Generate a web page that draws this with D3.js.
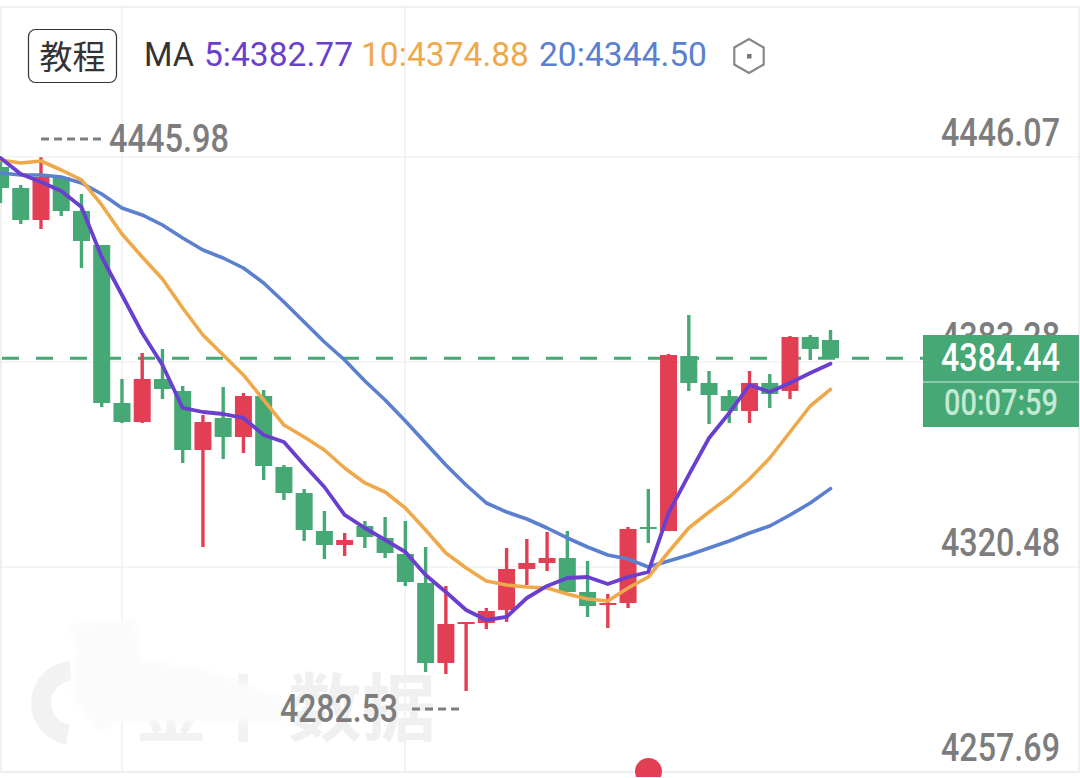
<!DOCTYPE html>
<html>
<head>
<meta charset="utf-8">
<script src="https://cdn.jsdelivr.net/npm/d3@7/dist/d3.min.js"></script>
<style>
html,body{margin:0;padding:0;background:#fff;overflow:hidden}
svg{display:block}
</style>
</head>
<body>
<svg id="c" width="1080" height="778"></svg>
<script>
const opens  = [4443.01,4436.58,4426.77,4439.94,4429.53,4419.12,4370.72,4364.90,4378.07,4374.40,4356.32,4366.13,4360.31,4372.87,4351.12,4343.15,4331.51,4327.23,4333.05,4329.37,4324.47,4315.59,4291.08,4303.03,4303.34,4307.32,4319.88,4321.71,4323.24,4312.83,4308.85,4309.46,4332.74,4331.51,4385.12,4376.85,4372.87,4368.27,4376.85,4374.40,4390.94,4390.02];
const highs  = [4445.76,4437.49,4445.98,4440.25,4434.74,4419.12,4378.07,4386.04,4387.26,4375.93,4367.05,4375.62,4373.78,4374.70,4351.73,4344.38,4337.64,4330.90,4334.58,4335.80,4334.58,4326.61,4314.67,4303.64,4307.93,4326.31,4329.06,4331.21,4331.51,4322.33,4312.22,4332.74,4344.38,4385.73,4397.68,4380.52,4374.70,4380.52,4379.60,4391.24,4391.55,4393.08];
const lows   = [4431.98,4425.55,4424.02,4428.00,4412.07,4369.50,4364.60,4364.60,4371.95,4352.34,4326.61,4353.57,4355.41,4347.14,4341.01,4328.45,4322.94,4323.86,4326.31,4323.24,4314.67,4288.33,4287.71,4282.53,4301.50,4303.64,4314.97,4319.26,4312.83,4305.17,4301.80,4307.93,4327.84,4331.51,4374.40,4364.29,4364.60,4364.60,4369.19,4371.95,4383.89,4384.44];
const closes = [4436.58,4426.77,4439.94,4429.53,4420.34,4370.72,4364.90,4378.07,4375.01,4356.32,4364.90,4360.31,4372.87,4351.42,4343.15,4331.82,4327.23,4328.76,4329.68,4324.78,4315.89,4291.08,4303.03,4303.64,4307.01,4319.88,4321.71,4323.24,4312.83,4308.54,4309.46,4332.13,4332.13,4385.42,4376.85,4373.17,4368.27,4376.85,4373.48,4390.94,4387.26,4384.44];
const ma5  = [4445.76,4440.86,4438.41,4435.66,4430.76,4415.44,4403.80,4392.16,4382.36,4369.19,4367.96,4367.35,4366.13,4360.92,4358.78,4351.73,4344.99,4336.42,4332.43,4328.76,4325.08,4318.04,4312.83,4307.32,4304.25,4305.17,4310.99,4314.67,4317.12,4317.42,4315.28,4317.42,4318.96,4337.03,4348.67,4360.00,4367.66,4376.23,4374.09,4376.85,4379.91,4382.77];
const ma10 = [4445.15,4444.23,4444.85,4442.09,4439.03,4431.37,4422.49,4415.44,4408.70,4399.82,4391.55,4385.42,4379.30,4371.64,4363.98,4360.31,4356.32,4350.81,4346.22,4343.46,4338.56,4331.82,4324.78,4320.18,4316.20,4314.97,4314.36,4314.06,4312.22,4310.69,4310.07,4314.06,4317.42,4325.08,4332.43,4337.33,4341.93,4347.44,4353.87,4361.84,4369.80,4374.88];
const ma20 = [4441.17,4440.56,4440.56,4439.94,4438.11,4434.74,4430.45,4428.31,4425.24,4421.26,4417.58,4415.13,4412.07,4407.48,4401.66,4395.53,4389.41,4383.89,4377.46,4371.64,4365.21,4358.47,4351.73,4345.60,4340.09,4337.33,4335.19,4332.43,4329.37,4326.61,4324.16,4322.94,4320.49,4322.33,4324.16,4326.31,4328.45,4330.90,4333.05,4336.42,4340.09,4344.50];
const axisTicks = [4446.07,4383.28,4320.48,4257.69];
const lastPrice = 4384.44;
const countdown = "00:07:59";
const highMark = 4445.98;
const lowMark = 4282.53;
const legendLabels = ["5:4382.77","10:4374.88","20:4344.50"];

const GREEN="#46a874",RED="#e33f54",PURPLE="#6a3fd0",ORANGE="#f0a94a",BLUE="#5b80cf",GREY="#7d7d7d",GRID="#ebebeb";
const NUM='Roboto,"Noto Sans",sans-serif';

const svg=d3.select("#c");
const x=d3.scaleLinear().domain([0,41]).range([0.5,830.5]);
const y=d3.scaleLinear().domain([4257.69,4446.07]).range([772,157]);

// frame + grid
svg.append("rect").attr("x",1).attr("y",7).attr("width",1078).attr("height",765).attr("fill","none").attr("stroke",GRID).attr("stroke-width",1.5);
svg.selectAll(".vg").data([122,405]).join("line").attr("x1",d=>d).attr("x2",d=>d).attr("y1",7).attr("y2",772).attr("stroke",GRID).attr("stroke-width",1.2);
svg.selectAll(".hg").data(axisTicks).join("line").attr("x1",1).attr("x2",1079).attr("y1",d=>y(d)).attr("y2",d=>y(d)).attr("stroke",GRID).attr("stroke-width",1.2);

// watermark
const wm=svg.append("g");
wm.append("path").attr("d",d3.arc()({innerRadius:22,outerRadius:42,startAngle:3.3,endAngle:6.2})).attr("transform","translate(73,703)").attr("fill","#f2f2f2");
wm.append("text").attr("x",135).attr("y",735).attr("font-family",'"Noto Sans CJK SC"').attr("font-weight",700).attr("font-size",72).attr("fill","#f2f2f2").text("金十");
wm.append("text").attr("x",288).attr("y",735).attr("font-family",'"Noto Sans CJK SC"').attr("font-weight",700).attr("font-size",74).attr("fill","#f0f0f0").text("数据");
svg.append("defs").append("filter").attr("id","b").append("feGaussianBlur").attr("stdDeviation",3);
svg.append("path").attr("d","M72,662 L78,655 L70,625 L135,618 L140,660 L200,668 L285,698 L285,722 L200,722 L115,722 L100,735 L72,695 Z").attr("fill","#fbfbfb").attr("filter","url(#b)");

// axis labels
const ax=svg.append("g").attr("transform","translate(1060,0)").call(d3.axisLeft(y).tickValues(axisTicks).tickSize(0).tickFormat(d3.format(".2f")));
ax.select(".domain").remove();
ax.selectAll("text").attr("x",0).attr("dy",0).attr("y",-12).attr("text-anchor","end").attr("fill",GREY)
  .attr("font-family",NUM).attr("font-weight",500).attr("font-size",39).attr("textLength",119).attr("lengthAdjust","spacingAndGlyphs");

// current price line
svg.append("line").attr("x1",2).attr("x2",923).attr("y1",y(lastPrice)).attr("y2",y(lastPrice)).attr("stroke",GREEN).attr("stroke-width",3).attr("stroke-dasharray","17 17");

// candles
const idx=d3.range(opens.length);
const col=i=>closes[i]>opens[i]?RED:GREEN;
const g=svg.append("g");
g.selectAll(".w").data(idx).join("line").attr("x1",i=>x(i)).attr("x2",i=>x(i)).attr("y1",i=>y(highs[i])).attr("y2",i=>y(lows[i])).attr("stroke",col).attr("stroke-width",3.4);
g.selectAll(".b").data(idx).join("rect").attr("x",i=>x(i)-8.5).attr("width",17)
 .attr("y",i=>y(Math.max(opens[i],closes[i])))
 .attr("height",i=>Math.max(2,Math.abs(y(opens[i])-y(closes[i])))).attr("fill",col);

// MA lines
const line=d3.line().x((d,i)=>x(i)).y(d=>y(d));
[[ma20,BLUE,3.6],[ma10,ORANGE,3.6],[ma5,PURPLE,3.8]].forEach(([s,c,w])=>{
  svg.append("path").attr("d",line(s)).attr("fill","none").attr("stroke",c).attr("stroke-width",w).attr("stroke-linejoin","round").attr("stroke-linecap","round");
});

// high/low markers
function mark(txt,tx,tw,lx1,lx2,val,cy){
  svg.append("line").attr("x1",lx1).attr("x2",lx2).attr("y1",cy).attr("y2",cy).attr("stroke",GREY).attr("stroke-width",3).attr("stroke-dasharray","8 5");
  svg.append("text").attr("x",tx).attr("y",cy+13).attr("fill",GREY).attr("font-family",NUM).attr("font-weight",500).attr("font-size",38).attr("textLength",tw).attr("lengthAdjust","spacingAndGlyphs").text(txt);
}
mark(highMark.toFixed(2),109,120,41,103,highMark,139);
mark(lowMark.toFixed(2),280,118,412,461,lowMark,709);

// price box
svg.append("rect").attr("x",923).attr("y",335).attr("width",156).attr("height",92).attr("fill",GREEN);
svg.append("line").attr("x1",923).attr("x2",1079).attr("y1",382).attr("y2",382).attr("stroke","#cfe9da").attr("stroke-width",1);
svg.append("text").attr("x",941).attr("y",371).attr("fill","#fff").attr("font-family",NUM).attr("font-weight",500).attr("font-size",39).attr("textLength",119).attr("lengthAdjust","spacingAndGlyphs").text(lastPrice.toFixed(2));
svg.append("text").attr("x",944).attr("y",415).attr("fill","#c3e8d3").attr("font-family",NUM).attr("font-weight",500).attr("font-size",36).attr("textLength",114).attr("lengthAdjust","spacingAndGlyphs").text(countdown);

// red dot
svg.append("clipPath").attr("id","cp").append("rect").attr("x",0).attr("y",0).attr("width",1080).attr("height",777);
svg.append("circle").attr("cx",648.5).attr("cy",771.5).attr("r",13.5).attr("fill",RED).attr("clip-path","url(#cp)");

// header
svg.append("rect").attr("x",28.5).attr("y",29.5).attr("width",88).attr("height",53).attr("rx",7).attr("fill","#fff").attr("stroke","#333").attr("stroke-width",1.2);
svg.append("text").attr("x",72.5).attr("y",69).attr("text-anchor","middle").attr("font-family",'"Noto Sans CJK SC"').attr("font-size",33).attr("fill","#333").text("教程");
svg.append("text").attr("x",144).attr("y",66).attr("font-family",NUM).attr("font-size",34).attr("fill","#333").attr("textLength",50).attr("lengthAdjust","spacingAndGlyphs").text("MA");
const legX=[204,361,539],legW=[149,168,168],legC=[PURPLE,ORANGE,BLUE];
svg.selectAll(".lg").data(legendLabels).join("text").attr("x",(d,i)=>legX[i]).attr("y",66).attr("font-family",NUM).attr("font-size",34)
  .attr("fill",(d,i)=>legC[i]).attr("textLength",(d,i)=>legW[i]).attr("lengthAdjust","spacingAndGlyphs").text(d=>d);

// settings icon
const hex=d3.range(6).map(k=>[749+17*Math.sin(k*Math.PI/3),56+17*Math.cos(k*Math.PI/3)]);
svg.append("path").attr("d",d3.line()(hex)+"Z").attr("fill","none").attr("stroke","#888").attr("stroke-width",2.2);
svg.append("rect").attr("x",747).attr("y",54).attr("width",4.5).attr("height",4.5).attr("fill","#777");
</script>
</body>
</html>
